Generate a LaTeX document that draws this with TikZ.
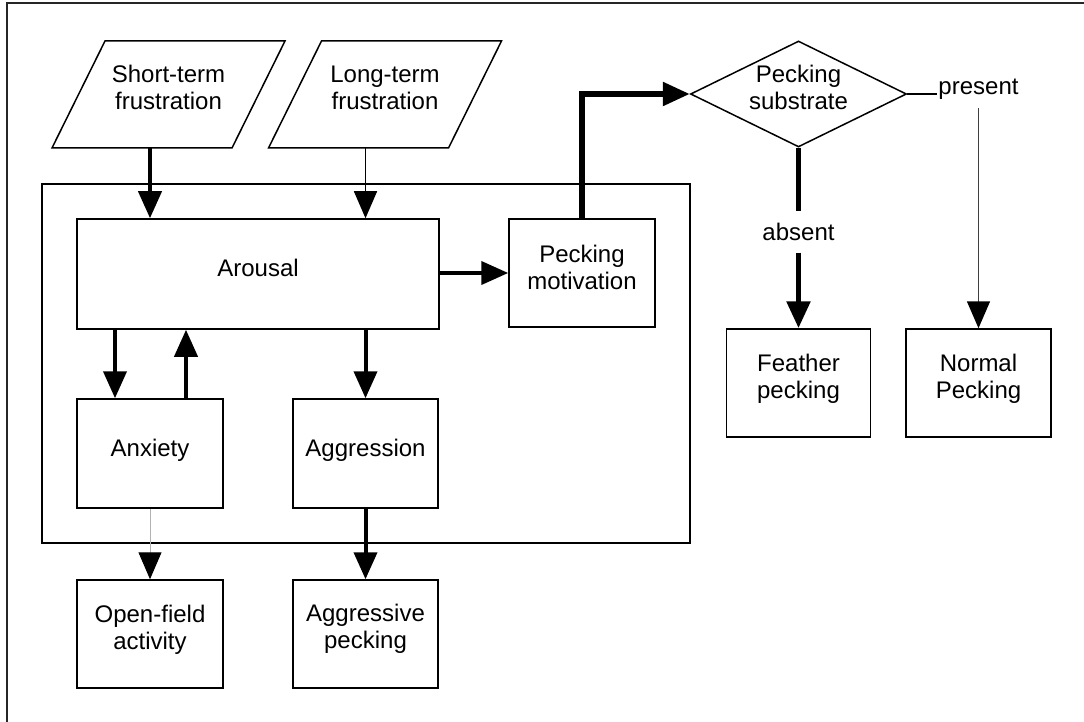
\documentclass[tikz,border=0pt]{standalone}
\usepackage{fontspec}
\setmainfont{Liberation Sans}
\usetikzlibrary{arrows.meta,shapes.geometric}
\newcommand\dfnt{\fontsize{24pt}{27pt}\selectfont}
\begin{document}
\begin{tikzpicture}[x=1pt,y=-1pt,
  every node/.style={font=\dfnt},
  txt/.style={align=center, inner sep=0pt, yshift=6pt},
  box/.style={draw, line width=1.5pt, rectangle, inner sep=0pt, minimum width=146pt, minimum height=108pt},
  para/.style={rectangle, inner sep=0pt, outer sep=0pt, minimum width=233pt, minimum height=107pt},
  dia/.style={draw, line width=1.5pt, diamond, inner sep=0pt, minimum width=216pt, minimum height=106pt},
  tip/.style={-{Triangle[length=27pt,width=23pt,color=black]}},
  heavy/.style={line width=4pt, tip},
  heavier/.style={line width=5.5pt},
  light/.style={line width=1.5pt}
]
\useasboundingbox (0,0) rectangle (1084,722);
% frame (top and left)
\draw[line width=2pt, black!85] (6.5,722) -- (6.5,3.5) -- (1084,3.5);

% group box
\node[draw, line width=1.5pt, minimum width=648pt, minimum height=359pt, inner sep=0pt] (grp) at (366,363.5) {};

% inputs (parallelograms)
\node[para, label={[txt,yshift=0.6pt]center:Short-term\\frustration}] (st) at (168.5,94.5) {};
\node[para, label={[txt,yshift=0.6pt]center:Long-term\\frustration}] (lt) at (385,94.5) {};
\foreach \p in {st,lt}
  \draw[line width=1.5pt, line join=miter] (\p.south west) -- ([xshift=53pt]\p.north west)
     -- (\p.north east) -- ([xshift=-53pt]\p.south east) -- cycle;

% boxes
\node[box, minimum width=362pt, minimum height=110pt, label={[txt,yshift=0.5pt]center:Arousal}] (ar) at (258,274) {};
\node[box, label={[txt]center:Pecking\\motivation}] (pm) at (582,273) {};
\node[box, minimum height=109pt, label={[txt,yshift=-2.5pt]center:Anxiety}] (anx) at (150,453.5) {};
\node[box, minimum width=145pt, minimum height=109pt, label={[txt,yshift=-2.5pt]center:Aggression}] (agg) at (365.5,453.5) {};
\node[box, label={[txt,yshift=-1.5pt]center:Open-field\\activity}] (of) at (150,634) {};
\node[box, minimum width=145pt, label={[txt,yshift=-0.5pt]center:Aggressive\\pecking}] (ap) at (365.5,634) {};
\node[box, minimum width=144pt, label={[txt,yshift=-1.5pt]center:Feather\\pecking}] (fp) at (798.5,383) {};
\node[box, minimum width=145pt, label={[txt,yshift=-1.5pt]center:Normal\\Pecking}] (np) at (978.5,383) {};

% decision
\node[dia, label={[txt,yshift=1pt]center:Pecking\\substrate}] (ps) at (798.5,94) {};

% branch labels
\node[inner xsep=1pt, inner ysep=8pt] (pres) at (978.5,89.7) {present};
\node[inner xsep=1.5pt, inner ysep=11.5pt] (abs) at (798.5,232) {absent};

% connectors
\draw[heavy] (st.south -| anx.north) -- (ar.north -| anx.north);
\draw[light, tip] (lt.south -| agg.north) -- (ar.north -| agg.north);
\draw[heavy] ([xshift=-35pt]anx.north |- ar.south) -- ([xshift=-35pt]anx.north);
\draw[heavy] ([xshift=36pt]anx.north) -- ([xshift=36pt]anx.north |- ar.south);
\draw[heavy] (agg.north |- ar.south) -- (agg.north);
\draw[line width=1pt, black!30, tip] (anx.south) -- (of.north);
\draw[heavy] (agg.south) -- (ap.north);
\draw[heavy] (ar.east |- pm.west) -- (pm.west);
\draw[heavier, tip] (pm.north) |- (ps.west);
\draw[heavier] (ps.south) -- (abs.north);
\draw[heavier, tip] (abs.south) -- (fp.north);
\draw[light] (ps.east) -- (pres.west |- ps.east);
\draw[line width=1.5pt, black!75, tip] (pres.south) -- (np.north);
\end{tikzpicture}
\end{document}
